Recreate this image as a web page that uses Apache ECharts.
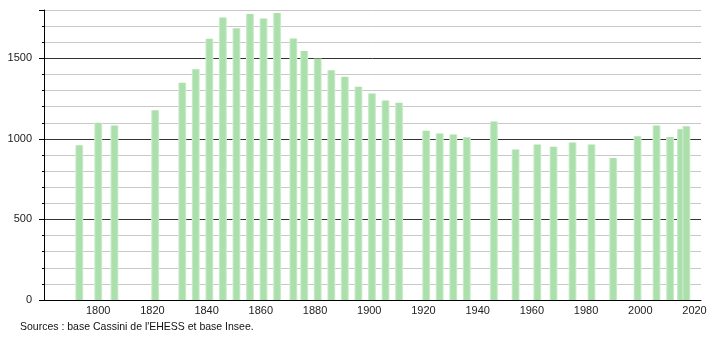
<!DOCTYPE html>
<html>
<head>
<meta charset="utf-8">
<script src="https://cdn.jsdelivr.net/npm/echarts@6/dist/echarts.min.js"></script>
<style>
html,body{margin:0;padding:0;background:#fff;}
#c{width:710px;height:340px;}
</style>
</head>
<body>
<div id="c"></div>
<script>
var years = [1793,1800,1806,1821,1831,1836,1841,1846,1851,1856,1861,1866,1872,1876,1881,1886,1891,1896,1901,1906,1911,1921,1926,1931,1936,1946,1954,1962,1968,1975,1982,1990,1999,2006,2011,2015,2017];
var population = [960,1100,1083,1177,1349,1432,1621,1754,1686,1775,1748,1781,1623,1546,1499,1426,1385,1324,1282,1239,1225,1050,1034,1027,1010,1108,934,965,951,978,965,882,1017,1083,1011,1060,1078];
var xTickYears = [1800,1820,1840,1860,1880,1900,1920,1940,1960,1980,2000,2020];
var yTickLabels = [0,500,1000,1500];
var sourceText = "Sources : base Cassini de l'EHESS et base Insee.";

var chart = echarts.init(document.getElementById('c'), null, {renderer:'canvas'});
var font = 'Liberation Sans, Arial, sans-serif';
var data = years.map(function(y,i){return [y, population[i]];});
var grid = {left:44, right:9, top:10, bottom:40};
chart.setOption({
  animation:false,
  grid:[grid],
  xAxis:{
    type:'value', min:1780, max:2022.4, interval:20,
    axisLine:{show:true, lineStyle:{color:'#000', width:1}},
    axisTick:{show:false},
    splitLine:{show:false},
    axisLabel:{
      color:'#222', fontFamily:font, fontSize:11, margin:5,
      showMinLabel:false, showMaxLabel:false,
      formatter:function(v){return xTickYears.indexOf(v)>=0 ? String(v) : '';}
    }
  },
  yAxis:[{
    type:'value', min:0, max:1800, interval:100,
    axisLine:{show:true, lineStyle:{color:'#000', width:1}},
    axisTick:{show:true, length:2, lineStyle:{color:'#000'}},
    splitLine:{show:true, lineStyle:{width:1, color:['#333','#c8c8c8','#c8c8c8','#c8c8c8','#c8c8c8']}},
    axisLabel:{
      color:'#222', fontFamily:font, fontSize:11, margin:12,
      formatter:function(v){return yTickLabels.indexOf(v)>=0 ? String(v) : '';}
    }
  },{
    type:'value', min:0, max:1800, interval:500, position:'left',
    axisLine:{show:false},
    axisTick:{show:true, length:5, lineStyle:{color:'#000'}},
    splitLine:{show:false},
    axisLabel:{show:false}
  }],
  series:[{
    type:'bar', data:data, barWidth:8, yAxisIndex:0,
    itemStyle:{color:{type:'linear', x:0, y:0, x2:1, y2:0, colorStops:[
      {offset:0, color:'#d6f1d6'},
      {offset:0.22, color:'#abdfab'},
      {offset:0.78, color:'#abdfab'},
      {offset:1, color:'#d6f1d6'}
    ]}}
  }],
  graphic:[{
    type:'text', left:20, top:322,
    style:{text:sourceText, fill:'#111', font:'10.5px Liberation Sans, Arial, sans-serif'}
  }]
});
</script>
</body>
</html>
